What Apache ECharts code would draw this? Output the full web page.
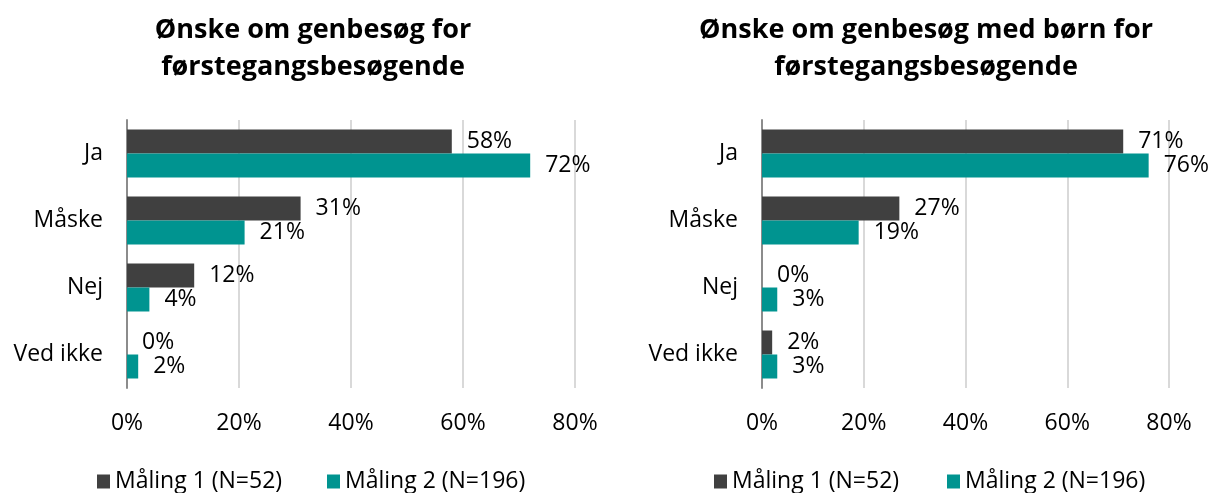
<!DOCTYPE html>
<html>
<head>
<meta charset="utf-8">
<script src="https://cdn.jsdelivr.net/npm/echarts@6/dist/echarts.min.js"></script>
<style>
html,body{margin:0;padding:0;background:#fff;}
#c{width:1213px;height:493px;}
</style>
</head>
<body>
<div id="c"></div>
<script>
const categories = ['Ja', 'Måske', 'Nej', 'Ved ikke'];
const seriesNames = ['Måling 1 (N=52)', 'Måling 2 (N=196)'];
const leftTitle = 'Ønske om genbesøg for\nførstegangsbesøgende';
const rightTitle = 'Ønske om genbesøg med børn for\nførstegangsbesøgende';
const leftM1 = [58, 31, 12, 0];
const leftM2 = [72, 21, 4, 2];
const rightM1 = [71, 27, 0, 2];
const rightM2 = [76, 19, 3, 3];
const xTicks = [0, 20, 40, 60, 80];

const FONT = "'Open Sans', Lato, sans-serif";
const colors = ['#404040', '#009490'];

const chart = echarts.init(document.getElementById('c'), null, {renderer: 'canvas'});

function xAxis(gi) {
  return {
    type: 'value', gridIndex: gi, min: xTicks[0], max: xTicks[xTicks.length - 1], interval: 20,
    axisLine: {show: false}, axisTick: {show: false},
    splitLine: {show: true, lineStyle: {color: '#d9d9d9', width: 2}},
    axisLabel: {formatter: '{value}%', fontSize: 23, color: '#000', fontFamily: FONT, margin: 24}
  };
}
function yAxis(gi) {
  return {
    type: 'category', gridIndex: gi, data: categories, inverse: true,
    axisLine: {show: true, lineStyle: {color: '#8c8c8c', width: 2}},
    axisTick: {show: false},
    axisLabel: {fontSize: 23, color: '#000', fontFamily: FONT, margin: 24}
  };
}
function bar(name, data, gi, ci) {
  return {
    name: name, type: 'bar', xAxisIndex: gi, yAxisIndex: gi, data: data,
    barWidth: 24, barGap: '0%',
    itemStyle: {color: colors[ci]},
    label: {show: true, position: 'right', distance: 15, formatter: '{c}%', fontSize: 23, color: '#000', fontFamily: FONT},
    animation: false
  };
}
function legend(name, left) {
  return {
    data: [name], left: left, top: 465, icon: 'rect', itemWidth: 13, itemHeight: 14,
    textStyle: {fontSize: 23, color: '#000', fontFamily: FONT}, selectedMode: false
  };
}

chart.setOption({
  animation: false,
  title: [
    {text: leftTitle, left: 308, top: 7, textAlign: 'center',
     textStyle: {fontSize: 27, fontWeight: 'bold', color: '#000', fontFamily: FONT, lineHeight: 37}},
    {text: rightTitle, left: 921, top: 7, textAlign: 'center',
     textStyle: {fontSize: 27, fontWeight: 'bold', color: '#000', fontFamily: FONT, lineHeight: 37}}
  ],
  legend: [
    legend(seriesNames[0], 92), legend(seriesNames[1], 322),
    legend(seriesNames[0], 709), legend(seriesNames[1], 942)
  ],
  grid: [
    {left: 127, width: 448, top: 120, height: 268},
    {left: 762, width: 407, top: 120, height: 268}
  ],
  xAxis: [xAxis(0), xAxis(1)],
  yAxis: [yAxis(0), yAxis(1)],
  series: [
    bar(seriesNames[0], leftM1, 0, 0),
    bar(seriesNames[1], leftM2, 0, 1),
    bar(seriesNames[0], rightM1, 1, 0),
    bar(seriesNames[1], rightM2, 1, 1)
  ]
});
</script>
</body>
</html>
